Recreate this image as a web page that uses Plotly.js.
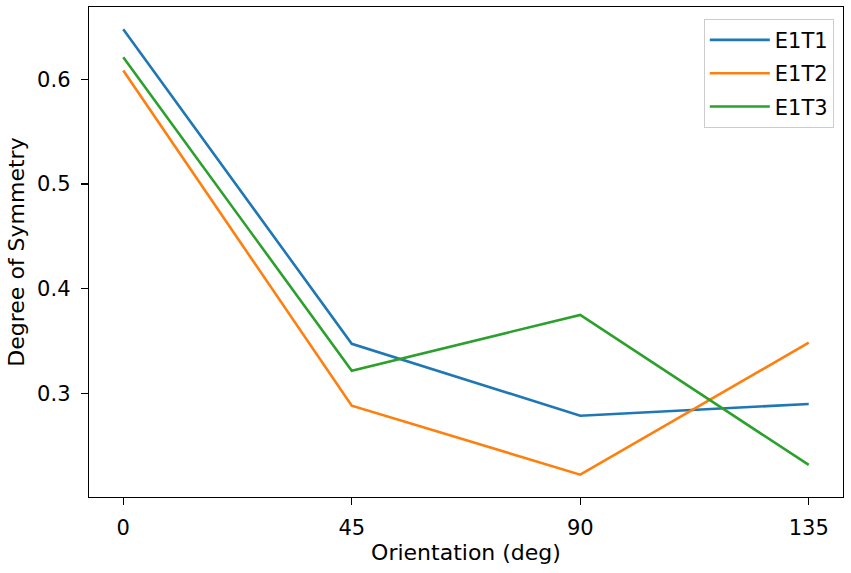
<!DOCTYPE html>
<html><head><meta charset="utf-8">
<script src="https://cdn.plot.ly/plotly-3.0.1.min.js"></script>
<style>html,body{margin:0;padding:0;background:#fff}#chart{width:851px;height:573px}</style>
</head><body><div id="chart"></div>
<script>
const orientations = [0, 45, 90, 135];
const seriesNames = ["E1T1", "E1T2", "E1T3"];
const e1t1 = [0.6477, 0.3474, 0.2787, 0.2899];
const e1t2 = [0.6083, 0.2883, 0.2224, 0.3484];
const e1t3 = [0.6210, 0.3217, 0.3750, 0.2317];
const colors = ["#1f77b4", "#ff7f0e", "#2ca02c"];
const allSeries = [e1t1, e1t2, e1t3];

const traces = allSeries.map((ys, i) => ({
  x: orientations, y: ys, name: seriesNames[i], type: "scatter", mode: "lines",
  legendgroup: "g" + i,
  line: {color: colors[i], width: 2.6}
}));

const tickFont = {family: "DejaVu Sans, sans-serif", size: 21, color: "#000"};
const titleFont = {family: "DejaVu Sans, sans-serif", size: 22, color: "#000"};
const layout = {
  width: 851, height: 573,
  margin: {l: 89, r: 8, t: 7, b: 76},
  paper_bgcolor: "#fff", plot_bgcolor: "#fff",
  font: tickFont,
  showlegend: true,
  legend: {x: 0.9878, y: 0.976, xanchor: "right", yanchor: "top",
    bgcolor: "rgba(255,255,255,0.8)", bordercolor: "#cccccc", borderwidth: 1,
    itemwidth: 60,
    font: {family: "DejaVu Sans, sans-serif", size: 21, color: "#000"}, tracegroupgap: 3},
  xaxis: {
    range: [-6.75, 141.75], tickvals: orientations, ticktext: orientations.map(String),
    showgrid: false, zeroline: false, showline: true, mirror: true, linecolor: "#000", linewidth: 1.3,
    ticks: "outside", ticklen: 7, tickwidth: 1.3, tickcolor: "#000",
    tickfont: tickFont, ticklabelstandoff: 4,
    title: {text: "Orientation (deg)", font: titleFont, standoff: 6}
  },
  yaxis: {
    range: [0.2011, 0.669], tickvals: [0.3, 0.4, 0.5, 0.6], ticktext: ["0.3", "0.4", "0.5", "0.6"],
    showgrid: false, zeroline: false, showline: true, mirror: true, linecolor: "#000", linewidth: 1.3,
    ticks: "outside", ticklen: 7, tickwidth: 1.3, tickcolor: "#000",
    tickfont: tickFont, ticklabelstandoff: 6,
    title: {text: "Degree of Symmetry", font: titleFont, standoff: 6}
  }
};
Plotly.newPlot("chart", traces, layout, {displayModeBar: false, staticPlot: true});
</script></body></html>
